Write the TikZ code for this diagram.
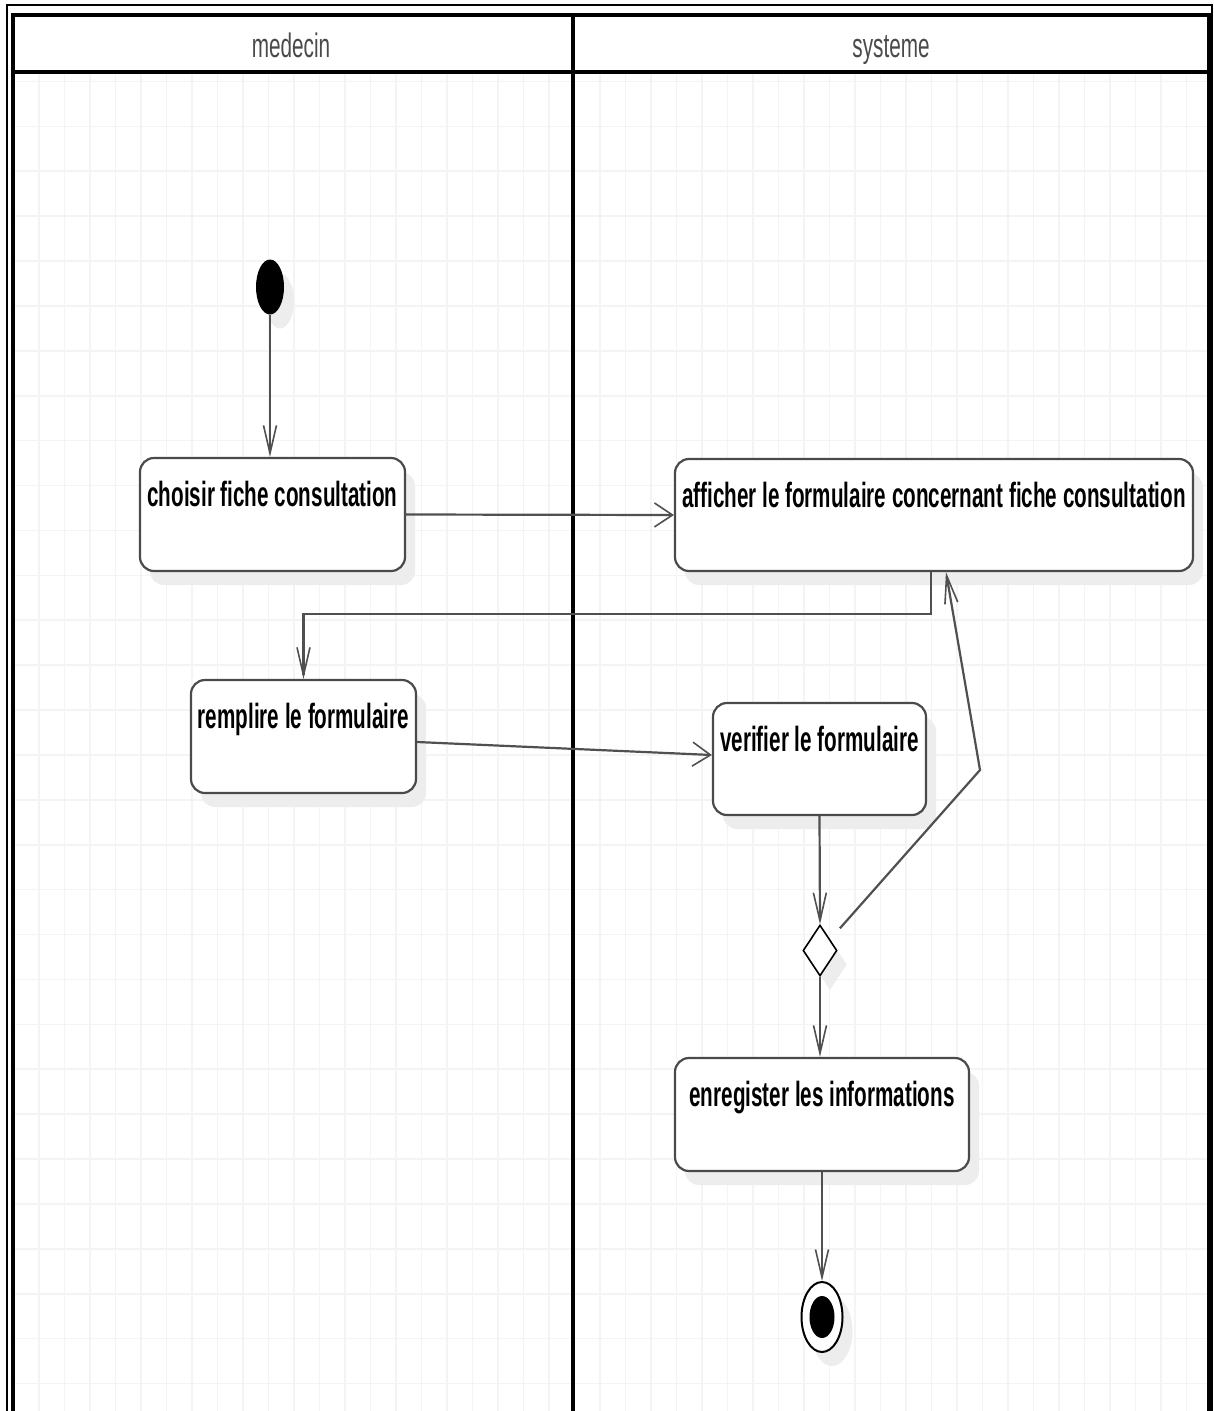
\documentclass[tikz,border=0pt]{standalone}
\usepackage{fontspec}
\setmainfont{Liberation Sans}
\newfontfamily\boxfont[FakeStretch=0.59]{Liberation Sans}
\newfontfamily\headfont[FakeStretch=0.61]{Liberation Sans}
\usetikzlibrary{arrows.meta,shapes.geometric,shadows,calc}
\definecolor{gridc}{HTML}{F4F4F4}
\definecolor{linec}{HTML}{505050}
\definecolor{boxc}{HTML}{4A4A4A}
\definecolor{shadc}{HTML}{EDEDED}
\definecolor{headc}{HTML}{4A4A4A}
\tikzset{
  actbox/.style={draw=boxc, line width=2.2pt, rounded corners=14pt, fill=white,
    drop shadow={shadow xshift=10pt, shadow yshift=-14pt, fill=shadc, opacity=1}},
  boxlabel/.style={font=\boxfont\bfseries\fontsize{35}{38}\selectfont, text=black, inner sep=0pt, anchor=north},
  headlabel/.style={font=\headfont\fontsize{34}{38}\selectfont, text=headc, inner sep=0pt, anchor=base},
  conn/.style={draw=linec, line width=2.2pt},
  vtip/.style={-{Straight Barb[length=28pt,width=13pt,line width=1.6pt]}},
  htip/.style={-{Straight Barb[length=18pt,width=24pt,line width=1.6pt]}},
  lane/.style={draw=black, line width=3.2pt},
}
\begin{document}
\begin{tikzpicture}[x=1pt,y=-1pt]
\useasboundingbox (0,0) rectangle (1214,1411);
\fill[white] (0,0) rectangle (1214,1411);
% grid
\begin{scope}
\clip (13,72) rectangle (1209,1411);
\foreach \i in {0,...,47} {\draw[gridc, line width=1.6pt] (13.5+25.5*\i,72) -- (13.5+25.5*\i,1411);}
\foreach \j in {0,...,30} {\draw[gridc, line width=1.6pt] (13,81.4+44.9*\j) -- (1209,81.4+44.9*\j);}
\end{scope}
% outer thin frame
\draw[black, line width=1.2pt] (7,1420) -- (7,5) -- (1212,5) -- (1212,1420);
% swimlanes
\draw[lane] (13,1420) -- (13,15) -- (1209,15) -- (1209,1420);
\draw[lane] (13,72) -- (1209,72);
\draw[lane] (573,15) -- (573,1420);
\node[headlabel] (hmed) at (291,57) {medecin};
\node[headlabel] (hsys) at (891,57) {systeme};

% initial node
\node[ellipse, fill=black, minimum width=28pt, minimum height=55pt, inner sep=0pt,
  drop shadow={shadow xshift=10pt, shadow yshift=-14pt, fill=shadc, opacity=1}] (init) at (270,287) {};

% activity boxes
\node[actbox, minimum width=265pt, minimum height=113pt] (choisir) at (272.5,514.5) {};
\node[boxlabel] (tchoisir) at ([yshift=-24pt]choisir.north) {choisir fiche consultation};

\node[actbox, minimum width=518pt, minimum height=112pt] (afficher) at (934,515) {};
\node[boxlabel] (tafficher) at ([yshift=-24pt]afficher.north) {afficher le formulaire concernant fiche consultation};

\node[actbox, minimum width=225pt, minimum height=113pt] (remplire) at (303.5,736.5) {};
\node[boxlabel] (tremplire) at ([yshift=-24pt]remplire.north) {remplire le formulaire};

\node[actbox, minimum width=213pt, minimum height=112pt] (verifier) at (819.5,759) {};
\node[boxlabel] (tverifier) at ([yshift=-24pt]verifier.north) {verifier le formulaire};

\node[diamond, draw=black, line width=1.6pt, fill=white, minimum width=34pt, minimum height=51pt, inner sep=0pt,
  drop shadow={shadow xshift=10pt, shadow yshift=-14pt, fill=shadc, opacity=1}] (dec) at (820,950.5) {};

\node[actbox, minimum width=294pt, minimum height=113pt] (enreg) at (822,1114.5) {};
\node[boxlabel] (tenreg) at ([yshift=-24pt]enreg.north) {enregister les informations};

% final node
\node[ellipse, draw=black, line width=2pt, fill=white, minimum width=41pt, minimum height=70pt, inner sep=0pt,
  drop shadow={shadow xshift=10pt, shadow yshift=-14pt, fill=shadc, opacity=1}] (final) at (822,1317) {};
\node[ellipse, fill=black, minimum width=25pt, minimum height=42pt, inner sep=0pt] (finaldot) at (final.center) {};

% connectors
\draw[conn, vtip] (init.south) -- (choisir.north -| init.south);
\draw[conn, htip] (choisir.east) -- (afficher.west);
\draw[conn, vtip] ([xshift=-3pt]afficher.south) -- ++(0,42) -| (remplire.north);
\draw[conn, htip] ($(remplire.east)+(0,5.5)$) -- ($(verifier.west)+(0,-4)$);
\draw[conn, vtip] (verifier.south) -- (dec.north);
\coordinate (bend) at (980,770);
\draw[conn, vtip] ($(dec.north east)+(11,-9)$) -- (bend) -- ([xshift=12pt]afficher.south);
\draw[conn, vtip] (dec.south) -- (enreg.north -| dec.south);
\draw[conn, vtip] (enreg.south) -- (final.north);
\end{tikzpicture}
\end{document}
